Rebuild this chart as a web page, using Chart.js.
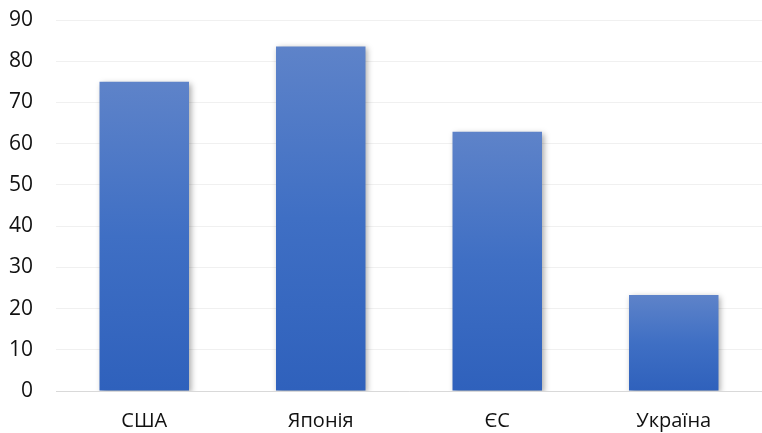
<!DOCTYPE html>
<html lang="uk">
<head>
<meta charset="UTF-8">
<title>Chart</title>
<style>
    body { margin: 0; background: #fff; }
    #wrap { width: 762px; height: 433px; }
</style>
</head>
<body>
<div id="wrap"><canvas id="c"></canvas></div>
<script src="https://cdn.jsdelivr.net/npm/chart.js"></script>
<script>
const categories = ['США', 'Японія', 'ЄС', 'Україна'];
const values = [75, 83.6, 62.9, 23.3];
const yTicks = [0, 10, 20, 30, 40, 50, 60, 70, 80, 90];

// light top -> darker bottom, per bar
function barGradient(context) {
    const chart = context.chart;
    const y = chart.scales.y;
    if (!y || context.dataIndex === undefined) return '#4472c4';
    const top = y.getPixelForValue(values[context.dataIndex]);
    const bottom = y.getPixelForValue(0);
    if (!isFinite(top) || !isFinite(bottom) || top === bottom) return '#4472c4';
    const g = chart.ctx.createLinearGradient(0, top, 0, bottom);
    g.addColorStop(0, '#5e83c9');
    g.addColorStop(0.5, '#3f6fc4');
    g.addColorStop(1, '#2f61bc');
    return g;
}

const shadow = {
    id: 'shadow',
    beforeDatasetDraw(chart) {
        const ctx = chart.ctx;
        ctx.save();
        ctx.shadowColor = 'rgba(0,0,0,0.35)';
        ctx.shadowBlur = 6;
        ctx.shadowOffsetX = 2;
        ctx.shadowOffsetY = 2;
    },
    afterDatasetDraw(chart) {
        chart.ctx.restore();
    }
};

new Chart(document.getElementById('c'), {
    type: 'bar',
    data: {
        labels: categories,
        datasets: [{
            data: values,
            backgroundColor: barGradient,
            categoryPercentage: 1,
            barPercentage: 0.507
        }]
    },
    options: {
        responsive: true,
        maintainAspectRatio: false,
        animation: false,
        layout: { padding: { top: 20, right: -4, left: 0, bottom: 0 } },
        plugins: { legend: { display: false }, tooltip: { enabled: false } },
        scales: {
            x: {
                afterFit: (axis) => {
                    axis.height = 42;
                    axis.paddingLeft = 0;
                    axis.paddingRight = 0;
                },
                grid: { display: false, drawTicks: false },
                border: { color: '#d9d9d9', width: 1 },
                ticks: { color: '#111', font: { family: 'Open Sans', size: 20 }, padding: 18 }
            },
            y: {
                min: 0,
                max: 90,
                afterBuildTicks: (axis) => { axis.ticks = yTicks.map(v => ({ value: v })); },
                afterFit: (axis) => {
                    axis.width = 56;
                    axis.paddingTop = 0;
                    axis.paddingBottom = 0;
                },
                grid: { color: '#f0f0f0', drawTicks: false },
                border: { display: false },
                ticks: { color: '#111', font: { family: 'Open Sans', size: 21 }, padding: 23 }
            }
        }
    },
    plugins: [shadow]
});
</script>
</body>
</html>
